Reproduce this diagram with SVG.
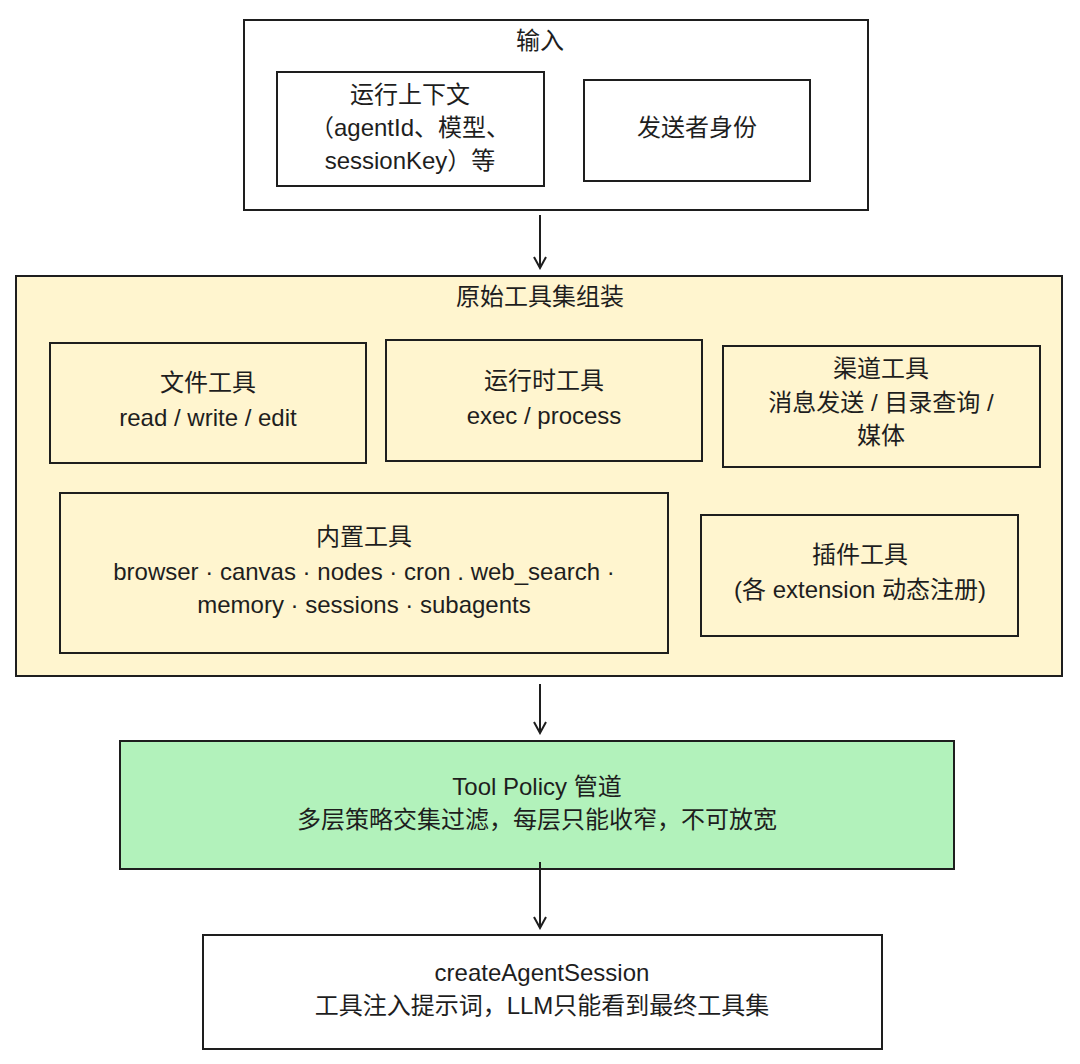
<svg xmlns="http://www.w3.org/2000/svg" width="1080" height="1064" viewBox="0 0 1080 1064">
<style>
.b{fill:none;stroke:#1e1e1e;stroke-width:2}
.t{font-family:"Liberation Sans","Noto Sans CJK SC",sans-serif;font-size:24px;fill:#1e1e1e;text-anchor:middle;dominant-baseline:middle}
.c{stroke:#1e1e1e;stroke-width:2;fill:none}
</style>
<defs><marker id="a" markerWidth="14" markerHeight="14" refX="12" refY="7" orient="auto" markerUnits="userSpaceOnUse"><path d="M1,1 L12,7 L1,13" class="c"/></marker></defs>
<rect width="1080" height="1064" fill="#fff"/>
<g id="input"><rect x="244" y="20" width="624" height="190" class="b" fill="#fff"/><text x="540" y="43" class="t" font-size="21">输入</text></g>
<g id="ctx"><rect x="277" y="72" width="267" height="114" class="b"/><text x="410" y="97" class="t">运行上下文</text><text x="410" y="130" class="t">（agentId、模型、</text><text x="410" y="163" class="t">sessionKey）等</text></g>
<g id="sender"><rect x="584" y="80" width="226" height="101" class="b"/><text x="697" y="130" class="t">发送者身份</text></g>
<g id="assemble"><rect x="16" y="276" width="1046" height="400" class="b" style="fill:#fff5cf"/><text x="540" y="299" class="t" font-size="21">原始工具集组装</text></g>
<g id="file"><rect x="50" y="343" width="316" height="120" class="b"/><text x="208" y="385" class="t">文件工具</text><text x="208" y="420" class="t">read / write / edit</text></g>
<g id="runtime"><rect x="386" y="340" width="316" height="121" class="b"/><text x="544" y="383" class="t">运行时工具</text><text x="544" y="418" class="t">exec / process</text></g>
<g id="channel"><rect x="723" y="346" width="317" height="121" class="b"/><text x="881" y="371" class="t">渠道工具</text><text x="881" y="405" class="t">消息发送 / 目录查询 /</text><text x="881" y="438" class="t">媒体</text></g>
<g id="builtin"><rect x="60" y="493" width="608" height="160" class="b"/><text x="364" y="539" class="t">内置工具</text><text x="364" y="574" class="t">browser · canvas · nodes · cron . web_search ·</text><text x="364" y="607" class="t">memory · sessions · subagents</text></g>
<g id="plugin"><rect x="701" y="515" width="317" height="121" class="b"/><text x="860" y="557" class="t">插件工具</text><text x="860" y="592" class="t">(各 extension 动态注册)</text></g>
<g id="policy"><rect x="120" y="741" width="834" height="128" class="b" style="fill:#b2f2bb"/><text x="537" y="789" class="t">Tool Policy 管道</text><text x="537" y="822" class="t">多层策略交集过滤，每层只能收窄，不可放宽</text></g>
<g id="session"><rect x="203" y="935" width="679" height="114" class="b" fill="#fff"/><text x="542" y="975" class="t">createAgentSession</text><text x="542" y="1008" class="t">工具注入提示词，LLM只能看到最终工具集</text></g>
<g id="connectors">
<line x1="540" y1="215" x2="540" y2="268" class="c" marker-end="url(#a)"/>
<line x1="540" y1="684" x2="540" y2="733" class="c" marker-end="url(#a)"/>
<line x1="540" y1="862" x2="540" y2="928" class="c" marker-end="url(#a)"/>
</g>
</svg>
